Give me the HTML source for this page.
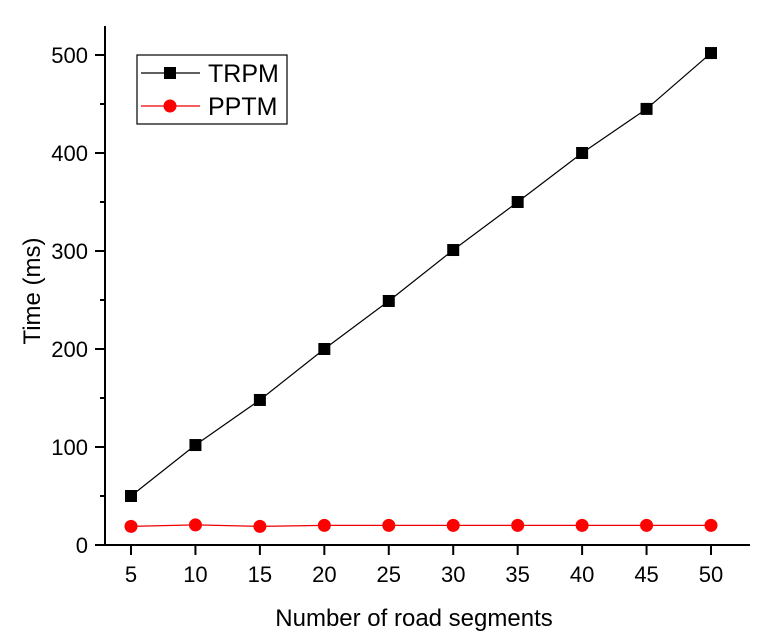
<!DOCTYPE html><html><head><meta charset="utf-8"><style>body{margin:0;background:#fff}svg{display:block;font-family:"Liberation Sans",Arial,sans-serif}</style></head><body>
<svg id="c" width="768" height="642"></svg>
<script>
const categories=[5,10,15,20,25,30,35,40,45,50];
const trpm=[50,102,148,200,249,301,350,400,445,502];
const pptm=[19,20.5,19,20,20,20,20,20,20,20];
const yTicks=[0,100,200,300,400,500];
const NS="http://www.w3.org/2000/svg",svg=document.getElementById('c');
function X(v){return 131+(v-5)*(580/45);}
function Y(v){return 545-v*0.98;}
function el(t,a,p){const e=document.createElementNS(NS,t);for(const k in a)e.setAttribute(k,a[k]);(p||svg).appendChild(e);return e;}
let e;
e=el('line',{x1:105,y1:26,x2:105,y2:546,stroke:'#000','stroke-width':2});

e=el('line',{x1:98,y1:545,x2:750,y2:545,stroke:'#000','stroke-width':2});

for(let v=0;v<=500;v+=50){const maj=v%100===0;e=el('line',{x1:maj?95:100,y1:Y(v),x2:105,y2:Y(v),stroke:'#000','stroke-width':2});
}
yTicks.forEach(v=>{e=el('text',{x:88,y:Y(v)+8,'text-anchor':'end','font-size':22});e.textContent=v;
});
categories.forEach(v=>{e=el('line',{x1:X(v),y1:545,x2:X(v),y2:555,stroke:'#000','stroke-width':2});

e=el('text',{x:X(v),y:582,'text-anchor':'middle','font-size':22});e.textContent=v;
});
e=el('text',{x:414,y:626,'text-anchor':'middle','font-size':24});e.textContent='Number of road segments';

e=el('text',{x:0,y:0,'text-anchor':'middle','font-size':24,transform:'translate(40,291) rotate(-90)'});e.textContent='Time (ms)';

e=el('polyline',{points:categories.map((c,i)=>X(c)+','+Y(trpm[i])).join(' '),fill:'none',stroke:'#000','stroke-width':1.2});

e=el('polyline',{points:categories.map((c,i)=>X(c)+','+Y(pptm[i])).join(' '),fill:'none',stroke:'#e00','stroke-width':1.2});

categories.forEach((c,i)=>{e=el('rect',{x:X(c)-6,y:Y(trpm[i])-6,width:12,height:12,fill:'#000'});

e=el('circle',{cx:X(c),cy:Y(pptm[i]),r:6.5,fill:'#f00'});
});
const g=el('g',{});
el('rect',{x:137,y:55,width:150,height:69,fill:'#fff',stroke:'#000','stroke-width':1.2},g);
el('line',{x1:141,y1:73,x2:200,y2:73,stroke:'#000','stroke-width':1.2},g);
el('rect',{x:164,y:67,width:12,height:12,fill:'#000'},g);
e=el('text',{x:208,y:82,'font-size':25},g);e.textContent='TRPM';

el('line',{x1:141,y1:106,x2:200,y2:106,stroke:'#e00','stroke-width':1.2},g);
el('circle',{cx:170,cy:106,r:6.5,fill:'#f00'},g);
e=el('text',{x:208,y:115,'font-size':25},g);e.textContent='PPTM';

</script></body></html>
